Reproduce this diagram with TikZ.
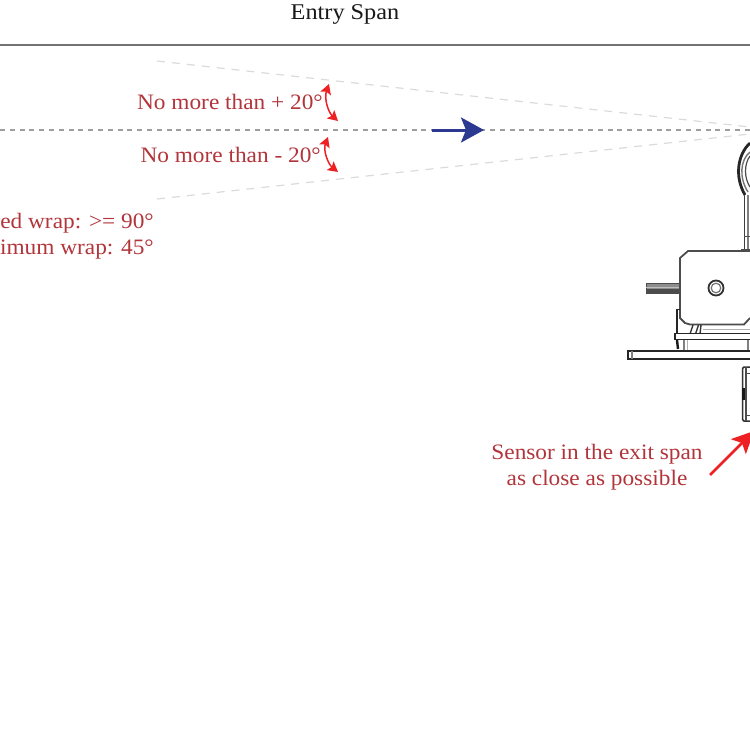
\documentclass[tikz,border=0pt]{standalone}
\usepackage{fontspec}
\setmainfont{Liberation Serif}
\newfontfamily\lblfont[FakeStretch=1.06]{Liberation Serif}
\newfontfamily\ttlfont[FakeStretch=1.08]{Liberation Serif}
\usetikzlibrary{arrows.meta}
\definecolor{lab}{HTML}{B2353B}
\definecolor{redar}{HTML}{ED2024}
\definecolor{blu}{HTML}{2B3990}
\tikzset{
  lbl/.style={text=lab,font=\lblfont\fontsize{22}{26}\selectfont,inner sep=0pt},
  ttl/.style={text=black!90,font=\ttlfont\fontsize{22.5}{26}\selectfont,inner sep=0pt},
  axis/.style={draw=black!38,line width=2pt,dash pattern=on 5pt off 4.8pt},
  cone/.style={draw=black!14,line width=1.2pt,dash pattern=on 8pt off 7pt},
  redarc/.style={draw=redar,line width=1.5pt,{Stealth[length=10pt,width=11pt,inset=2pt]}-{Stealth[length=10pt,width=11pt,inset=2pt]}},
  mach/.style={draw=black!70,line width=1.8pt,fill=white},
  machl/.style={draw=black!80,line width=1.4pt},
  machg/.style={draw=black!50,line width=1.8pt},
}
\begin{document}
\begin{tikzpicture}[x=1pt,y=-1pt]
\useasboundingbox (0,0) rectangle (750,750);
\clip (0,0) rectangle (750,750);
\fill[white] (0,0) rectangle (750,750);
% title and top rule
\node[ttl,anchor=base] (entry) at (345,19) {Entry Span};
\coordinate (rl) at (0,45); \coordinate (rr) at (750,45);
\draw[black!55,line width=2.2pt] (rl) -- (rr);
% centre line and cone
\coordinate (al) at (0,130); \coordinate (ar) at (750,130);
\draw[axis] (al) -- (ar);
\coordinate (c1) at (157,61); \coordinate (c2) at (750,127);
\coordinate (c3) at (157,199); \coordinate (c4) at (750,134);
\draw[cone] (c1) -- (c2);
\draw[cone] (c3) -- (c4);
% blue arrow
\coordinate (b1) at (432,130); \coordinate (b2) at (484,130);
\draw[blu,line width=3pt,-{Stealth[length=23pt,width=25pt,inset=5pt]}] (b1) -- (b2);
% labels
\node[lbl,anchor=base east] (p20) at (323,109) {No more than + 20°};
\node[lbl,anchor=base east] (m20) at (321,162) {No more than - 20°};
\node[lbl,anchor=base east] (des) at (154,228) {Desired wrap: >= 90°};
\node[lbl,anchor=base east] (min) at (154,254) {Minimum wrap: 45°};
\node[lbl,anchor=base] (s1) at (597,459) {Sensor in the exit span};
\node[lbl,anchor=base] (s2) at (597,485) {as close as possible};
% angle arrows
\coordinate (a1) at (329,84); \coordinate (a2) at (338,121);
\coordinate (a3) at (328,137); \coordinate (a4) at (338,172);
\draw[redarc] (a1) .. controls (324,98) and (328,112) .. (a2);
\draw[redarc] (a3) .. controls (323,150) and (328,164) .. (a4);
% sensor arrow
\coordinate (r1) at (710,475); \coordinate (r2) at (754,431);
\draw[redar,line width=2.6pt,-{Stealth[length=22pt,width=21pt,inset=5pt]}] (r1) -- (r2);
% roller
\draw[black!85,line width=2.8pt] (750,143) .. controls (738,154) and (734,176) .. (745,195);
\draw[black!55,line width=1.4pt] (750,152) .. controls (740,160) and (739,178) .. (748,192);
\draw[black!70,line width=1.2pt] (750,156) .. controls (744,164) and (744,178) .. (750,187);
% stand
\draw[black!75,line width=1.8pt] (744.5,195) -- (744.5,250);
\draw[black!50,line width=1.4pt] (748,195) -- (748,250);
\draw[black!70,line width=1.6pt] (741,250) -- (750,250);
\draw[black!70,line width=1pt] (744,236) -- (750,236);
% gearbox shaft
\draw[black!70,fill=black!45,line width=1pt] (646,283.5) rectangle (681,293);
\fill[black!70] (646,288.5) rectangle (681,293);
\draw[black!25,line width=.8pt] (646,287) -- (681,287);
% gearbox body
\path[mach] (750,251) -- (688,251) -- (680,258) -- (680,318) -- (685,323) -- (690,324.5) -- (744,324.5) -- (750,318);
\draw[black!80,line width=1.8pt] (716,288) circle (7.5);
\draw[black!55,line width=1.2pt] (716,288) circle (4.8);
% bracket and feet
\draw[black!85,line width=1.8pt] (680,309.5) -- (677,309.5) -- (677,340);
\draw[black!90,line width=2.4pt] (677,340) -- (678,349);
\draw[machl] (690,334) -- (693,325);
\draw[machl] (695.5,334) -- (698.5,325);
\draw[machl] (700,334) -- (701,325);
\draw[black!30,line width=1pt] (703,329) -- (750,329);
\path[draw=black!85,line width=1.5pt,fill=white] (750,333.5) -- (675,333.5) -- (675,339.5) -- (750,339.5);
\draw[machg] (684,340) -- (684,350);
\draw[black!30,line width=1pt] (687,340) -- (687,350);
\draw[machg] (748,340) -- (748,350);
% base plate
\path[draw=black!85,line width=1.5pt,fill=white] (750,351) -- (628,351) -- (628,359) -- (750,359);
\draw[black!50,line width=1.4pt] (632,351) -- (632,359);
% sensor box
\path[draw=black!80,line width=1.5pt,fill=white,rounded corners=1.5pt] (750,367) -- (742.5,367) -- (742.5,421) -- (750,421);
\draw[black!90,line width=3pt] (743,388) -- (743,400);
\draw[black!70,line width=1.3pt] (746,367) -- (746,421);
\draw[black!70,line width=1pt] (746,373) -- (750,373);
\draw[black!70,line width=1pt] (746,415) -- (750,415);
\end{tikzpicture}
\end{document}
